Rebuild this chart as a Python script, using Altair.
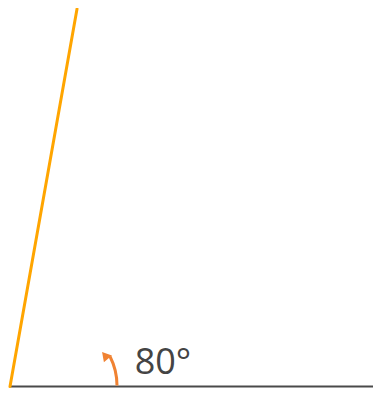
import altair as alt
import pandas as pd
import math

# plot-area coordinates (x to the right, y downward from the top)
base_x = [2, 365]
base_y = [378.5, 378.5]
ray_x = [2, 69]
ray_y = [378.5, 1]
angle_label = ["80°"]
label_x = [155]
label_y = [365.5]
arc_center_x = [45]
arc_center_y = [377.5]
arc_radius = 64
arc_deg_from = 0
arc_deg_to = 27
head_x = [97]
head_y = [347.5]
head_rotation = 320

W, H = 365, 380
xs = alt.Scale(domain=[0, W], nice=False, zero=False)
ys = alt.Scale(domain=[0, H], nice=False, zero=False, reverse=True)

def enc():
    return dict(x=alt.X("x:Q", scale=xs, axis=None), y=alt.Y("y:Q", scale=ys, axis=None))

base_df = pd.DataFrame({"x": base_x, "y": base_y})
ray_df = pd.DataFrame({"x": ray_x, "y": ray_y})
lab_df = pd.DataFrame({"x": label_x, "y": label_y, "t": angle_label})
arc_df = pd.DataFrame({"x": arc_center_x, "y": arc_center_y})
head_df = pd.DataFrame({"x": head_x, "y": head_y})

base = alt.Chart(base_df).mark_line(color="#4a4a4a", strokeWidth=2).encode(**enc())
ray = alt.Chart(ray_df).mark_line(color="#FFA500", strokeWidth=3, strokeCap="round").encode(**enc())
arc = alt.Chart(arc_df).mark_arc(
    radius=arc_radius, radius2=arc_radius,
    theta=math.radians(90 - arc_deg_to), theta2=math.radians(90 - arc_deg_from),
    filled=False, stroke="#F08232", strokeWidth=3, fillOpacity=0,
).encode(**enc())
head = alt.Chart(head_df).mark_point(
    shape="triangle-up", filled=True, color="#F08232", size=110, angle=head_rotation, opacity=1
).encode(**enc())
label = alt.Chart(lab_df).mark_text(
    font="Open Sans", fontSize=36, color="#444444", align="center", baseline="alphabetic"
).encode(text="t:N", **enc())

chart = alt.layer(base, ray, arc, head, label).properties(
    width=W, height=H, padding=0, autosize=alt.AutoSizeParams(type="none")
).configure_view(stroke=None)

chart.save("out.html", embed_options={"renderer": "svg", "actions": False})
